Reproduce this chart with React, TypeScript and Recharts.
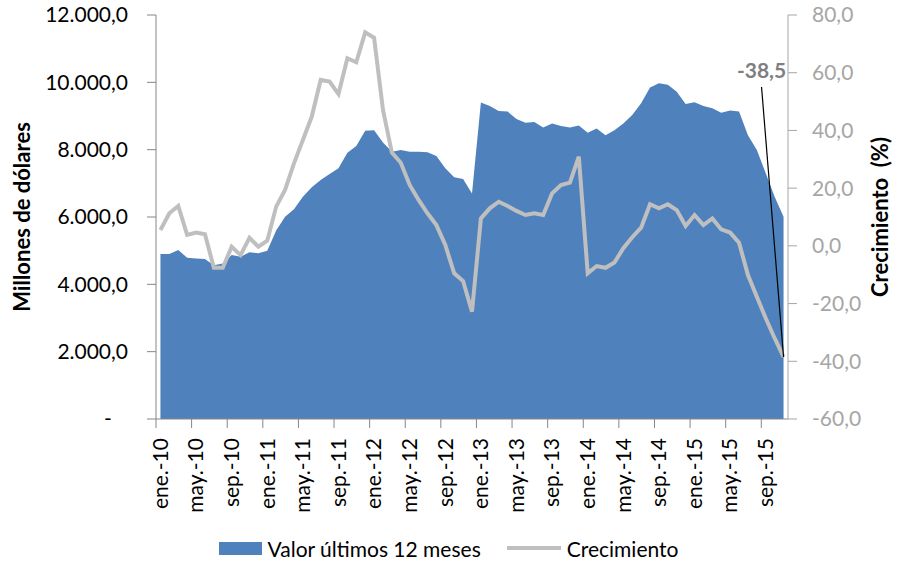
import { ComposedChart, Area, Line, XAxis, YAxis, Legend, LabelList } from 'recharts';

const meses = ['ene.', 'feb.', 'mar.', 'abr.', 'may.', 'jun.', 'jul.', 'ago.', 'sep.', 'oct.', 'nov.', 'dic.'];
const anios = ['10', '11', '12', '13', '14', '15'];
const categorias = anios.flatMap((a) => meses.map((m) => `${m}-${a}`)).slice(0, 71);

// Valor últimos 12 meses (millones de dólares)
const valor = [
  4900, 4900, 5020, 4790, 4770, 4750, 4570, 4620, 4870, 4820, 4950, 4920,
  5000, 5600, 6010, 6230, 6600, 6880, 7100, 7280, 7450, 7910, 8110, 8560,
  8580, 8210, 7940, 7990, 7940, 7940, 7920, 7810, 7450, 7180, 7130, 6700,
  9400, 9300, 9150, 9130, 8910, 8800, 8820, 8660, 8780, 8700, 8660, 8720,
  8500, 8630, 8430, 8580, 8780, 9030, 9380, 9850, 9970, 9930, 9720, 9360,
  9410, 9300, 9230, 9100, 9160, 9130, 8430, 7990, 7300, 6600, 6010,
];

// Crecimiento (%)
const crecimiento = [
  5.5, 11.3, 13.8, 3.8, 4.6, 4.0, -7.6, -7.6, -0.3, -3.2, 2.8, -0.3,
  1.8, 13.6, 19.4, 28.6, 36.7, 44.8, 57.5, 56.9, 52.6, 65.0, 63.6, 74.0,
  72.1, 47.1, 32.3, 28.8, 21.1, 15.9, 11.3, 7.2, 0.3, -9.5, -12.2, -22.8,
  9.5, 13.0, 15.3, 13.8, 12.1, 10.7, 11.3, 10.7, 18.2, 21.1, 21.9, 30.9,
  -9.5, -7.0, -7.6, -5.8, -0.8, 3.0, 6.3, 14.4, 13.0, 14.4, 12.4, 6.9,
  10.7, 7.2, 9.5, 5.7, 4.6, 1.1, -10.1, -17.6, -25.1, -32.0, -38.5,
];

const ticksValor = [0, 2000, 4000, 6000, 8000, 10000, 12000];
const ticksCrec = [-60, -40, -20, 0, 20, 40, 60, 80];

const data = categorias.map((mes, i) => ({ mes, valor: valor[i], crecimiento: crecimiento[i] }));

const FONT = 'Lato, "Open Sans", sans-serif';
const AZUL = '#4f81bd';
const GRIS = '#bfbfbf';
const BANDA = 632 / categorias.length;

const fmtMiles = (v: number) => {
  if (v === 0) return '-\u00a0\u00a0\u00a0';
  const [ent, dec] = v.toFixed(1).split('.');
  return ent.replace(/\B(?=(\d{3})+(?!\d))/g, '.') + ',' + dec;
};
const fmtPct = (v: number) => v.toFixed(1).replace('.', ',');

function MesTick({ x, y, payload }: any) {
  const ty = y + 19;
  return (
    <g>
      <line x1={x - BANDA / 2} y1={y} x2={x - BANDA / 2} y2={y + 9} stroke="#868686" />
      <text
        x={x}
        y={ty}
        dy="0.35em"
        textAnchor="end"
        transform={`rotate(-90, ${x}, ${ty})`}
        fontFamily={FONT}
        fontSize={21}
        fill="#000"
      >
        {payload.value}
      </text>
    </g>
  );
}

function TituloEje({ viewBox, texto, dx }: any) {
  const cx = viewBox.x + dx;
  const cy = viewBox.y + viewBox.height / 2;
  return (
    <text
      x={cx}
      y={cy}
      dy="0.35em"
      textAnchor="middle"
      transform={`rotate(-90, ${cx}, ${cy})`}
      fontFamily={FONT}
      fontSize={22}
      fontWeight="bold"
      fill="#000"
    >
      {texto}
    </text>
  );
}

function UltimoValor({ x, y, value, index }: any) {
  if (index !== crecimiento.length - 1) return null;
  return (
    <g>
      <line x1={x - 22} y1={y - 270} x2={x} y2={y} stroke="#000" strokeWidth={1.2} />
      <text
        x={x - 22}
        y={y - 279}
        textAnchor="middle"
        fontFamily={FONT}
        fontSize={21}
        fontWeight="bold"
        fill="#7f7f7f"
      >
        {fmtPct(value)}
      </text>
    </g>
  );
}

function Leyenda() {
  return (
    <div
      style={{
        height: 40,
        boxSizing: 'border-box',
        paddingTop: 12,
        display: 'flex',
        alignItems: 'center',
        justifyContent: 'center',
        fontFamily: FONT,
        fontSize: 21,
        color: '#000',
      }}
    >
      <span style={{ width: 43, height: 13, background: AZUL, marginRight: 6 }} />
      <span>Valor últimos 12 meses</span>
      <span style={{ width: 54, height: 4, background: GRIS, marginLeft: 26, marginRight: 6 }} />
      <span>Crecimiento</span>
    </div>
  );
}

export default function App() {
  return (
    <div style={{ position: 'absolute', left: 0, top: 0, background: '#fff' }}>
      <ComposedChart width={897} height={562} data={data} margin={{ top: 15, right: 0, bottom: 0, left: 0 }}>
        <XAxis
          dataKey="mes"
          scale="band"
          interval={3}
          height={103}
          tickSize={0}
          tickMargin={0}
          tickLine={false}
          tick={<MesTick />}
          axisLine={{ stroke: '#868686' }}
        />
        <YAxis
          yAxisId="izq"
          width={156}
          domain={[0, 12000]}
          ticks={ticksValor}
          tickFormatter={fmtMiles}
          tickSize={9}
          tickMargin={19}
          axisLine={{ stroke: '#868686' }}
          tickLine={{ stroke: '#868686' }}
          tick={{ fill: '#000', fontFamily: FONT, fontSize: 21 }}
          label={{ content: (p: any) => <TituloEje {...p} texto="Millones de dólares" dx={22} /> }}
        />
        <YAxis
          yAxisId="der"
          orientation="right"
          width={109}
          domain={[-60, 80]}
          ticks={ticksCrec}
          tickFormatter={fmtPct}
          tickSize={9}
          tickMargin={15}
          axisLine={{ stroke: '#a6a6a6' }}
          tickLine={{ stroke: '#a6a6a6' }}
          tick={{ fill: '#a6a6a6', fontFamily: FONT, fontSize: 21 }}
          label={{ content: (p: any) => <TituloEje {...p} texto={'Crecimiento\u00a0 (%)'} dx={92} /> }}
        />
        <Legend verticalAlign="bottom" height={40} content={() => <Leyenda />} />
        <Area
          yAxisId="izq"
          type="linear"
          dataKey="valor"
          name="Valor últimos 12 meses"
          fill={AZUL}
          fillOpacity={1}
          stroke="none"
          isAnimationActive={false}
        />
        <Line
          yAxisId="der"
          type="linear"
          dataKey="crecimiento"
          name="Crecimiento"
          stroke={GRIS}
          strokeWidth={4}
          dot={false}
          isAnimationActive={false}
        >
          <LabelList dataKey="crecimiento" content={<UltimoValor />} />
        </Line>
      </ComposedChart>
    </div>
  );
}
